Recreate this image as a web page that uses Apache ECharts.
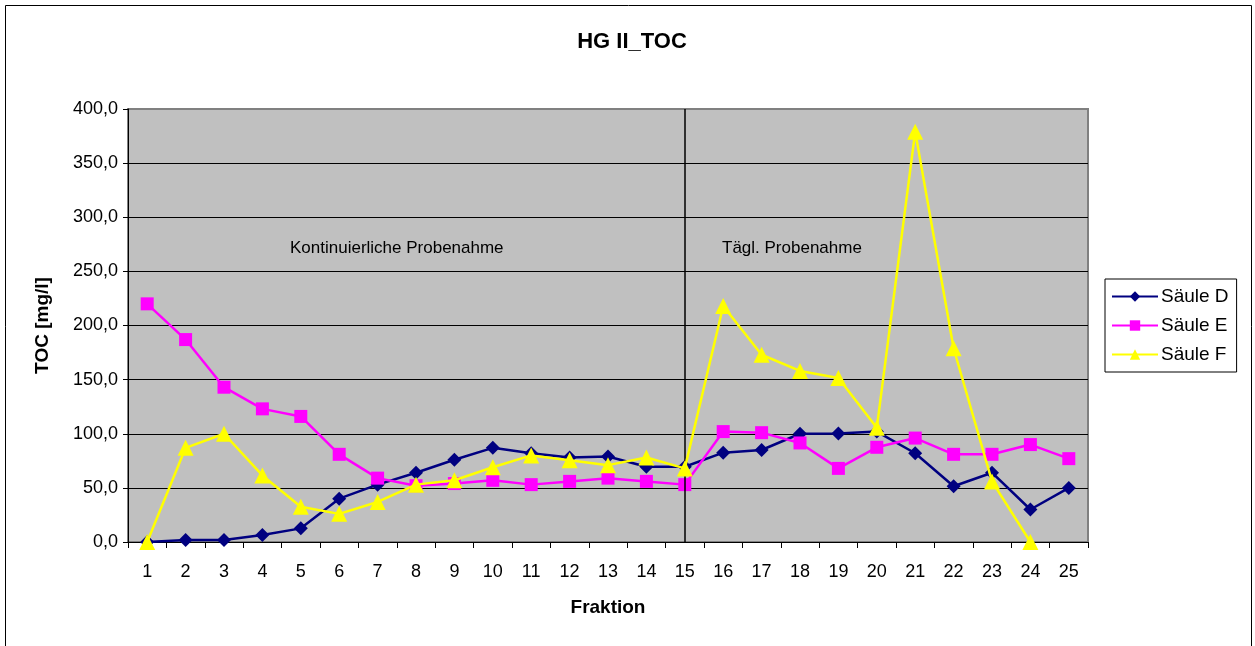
<!DOCTYPE html>
<html>
<head>
<meta charset="utf-8">
<script src="https://cdn.jsdelivr.net/npm/echarts@6/dist/echarts.min.js"></script>
<style>
html,body{margin:0;padding:0;background:#fff;}
#chart{width:1255px;height:646px;}
</style>
</head>
<body>
<div id="chart"></div>
<script>
const categories = ['1','2','3','4','5','6','7','8','9','10','11','12','13','14','15','16','17','18','19','20','21','22','23','24','25'];
const saeuleD = [0, 1.8, 1.8, 6.5, 12.6, 40, 53, 64, 76, 87, 82, 78, 79, 69.5, 69.5, 82.5, 85, 100, 100.3, 102, 82, 51.5, 64, 30, 50];
const saeuleE = [220, 187, 143, 123, 116, 81, 59, 52, 54, 57, 53, 56, 59, 56, 53, 102, 101, 91.5, 68, 87.5, 96, 81, 81, 90, 77];
const saeuleF = [0, 87, 100, 61.5, 32.5, 26, 37, 53, 57, 69, 80, 75.5, 71, 78, 68, 218, 173, 158, 151.5, 105.5, 379, 179, 56, 0, null];
const yTicks = {min: 0, max: 400, interval: 50};
const seriesNames = ['Säule D', 'Säule E', 'Säule F'];
const markerAt = '15';

const chart = echarts.init(document.getElementById('chart'));
const FONT = 'Liberation Sans, Arial, sans-serif';
const gridColors = ['#000','#000','#000','#000','#000','#000','#000','#000','#808080'];

chart.setOption({
  backgroundColor: '#fff',
  animation: false,
  title: {
    text: 'HG II_TOC',
    left: 627, top: 26, textAlign: 'center',
    textStyle: {fontFamily: FONT, fontSize: 22, fontWeight: 'bold', color: '#000'}
  },
  legend: {
    orient: 'vertical',
    left: 1105, top: 279,
    width: 137,
    padding: [8, 8, 8, 6],
    itemWidth: 46, itemHeight: 13, itemGap: 10,
    borderColor: '#000', borderWidth: 1,
    backgroundColor: '#fff',
    data: seriesNames,
    textStyle: {fontFamily: FONT, fontSize: 19, color: '#000', padding: [0,0,0,-2]}
  },
  grid: {
    left: 128, right: 167, top: 109, bottom: 104,
    show: true, backgroundColor: '#C0C0C0', borderColor: '#808080', borderWidth: 2
  },
  xAxis: {
    type: 'category',
    data: categories,
    boundaryGap: true,
    name: 'Fraktion',
    nameLocation: 'middle',
    nameGap: 56,
    nameTextStyle: {fontFamily: FONT, fontSize: 19, fontWeight: 'bold', color: '#000'},
    axisLine: {show: true, lineStyle: {color: '#000', width: 1}},
    axisTick: {show: true, alignWithLabel: false, length: 6, lineStyle: {color: '#000'}},
    axisLabel: {fontFamily: FONT, fontSize: 18, color: '#000', margin: 21, interval: 0},
    splitLine: {show: false}
  },
  yAxis: {
    type: 'value',
    min: yTicks.min, max: yTicks.max, interval: yTicks.interval,
    name: 'TOC [mg/l]',
    nameLocation: 'middle',
    nameGap: 76,
    nameTextStyle: {fontFamily: FONT, fontSize: 19, fontWeight: 'bold', color: '#000'},
    axisLine: {show: true, lineStyle: {color: '#000', width: 1}},
    axisTick: {show: true, length: 5, lineStyle: {color: '#000'}},
    axisLabel: {
      fontFamily: FONT, fontSize: 18, color: '#000', margin: 10,
      formatter: v => v.toFixed(1).replace('.', ',')
    },
    splitLine: {show: true, lineStyle: {color: gridColors, width: 1}}
  },
  graphic: [
    {type: 'rect', left: 3, top: 3, shape: {width: 1246, height: 660}, style: {fill: 'none', stroke: '#000', lineWidth: 1}, silent: true, z: -1},
    {type: 'text', left: 290, top: 240, style: {text: 'Kontinuierliche Probenahme', font: '17px "Liberation Sans", Arial, sans-serif', fill: '#000'}, z: 100},
    {type: 'text', left: 722, top: 240, style: {text: 'Tägl. Probenahme', font: '17px "Liberation Sans", Arial, sans-serif', fill: '#000'}, z: 100}
  ],
  series: [
    {
      name: seriesNames[0], type: 'line', data: saeuleD,
      symbol: 'diamond', symbolSize: 14, showAllSymbol: true,
      lineStyle: {color: '#000080', width: 2.5},
      itemStyle: {color: '#000080'},
      z: 3,
      markLine: {
        silent: true, symbol: 'none', label: {show: false},
        lineStyle: {color: '#000', width: 1.5, type: 'solid'},
        data: [{xAxis: markerAt}]
      }
    },
    {
      name: seriesNames[1], type: 'line', data: saeuleE,
      symbol: 'rect', symbolSize: 13, showAllSymbol: true,
      lineStyle: {color: '#FF00FF', width: 2.5},
      itemStyle: {color: '#FF00FF'},
      z: 4
    },
    {
      name: seriesNames[2], type: 'line', data: saeuleF,
      symbol: 'triangle', symbolSize: 16, showAllSymbol: true,
      lineStyle: {color: '#FFFF00', width: 2.5},
      itemStyle: {color: '#FFFF00'},
      z: 5
    }
  ]
});
</script>
</body>
</html>
